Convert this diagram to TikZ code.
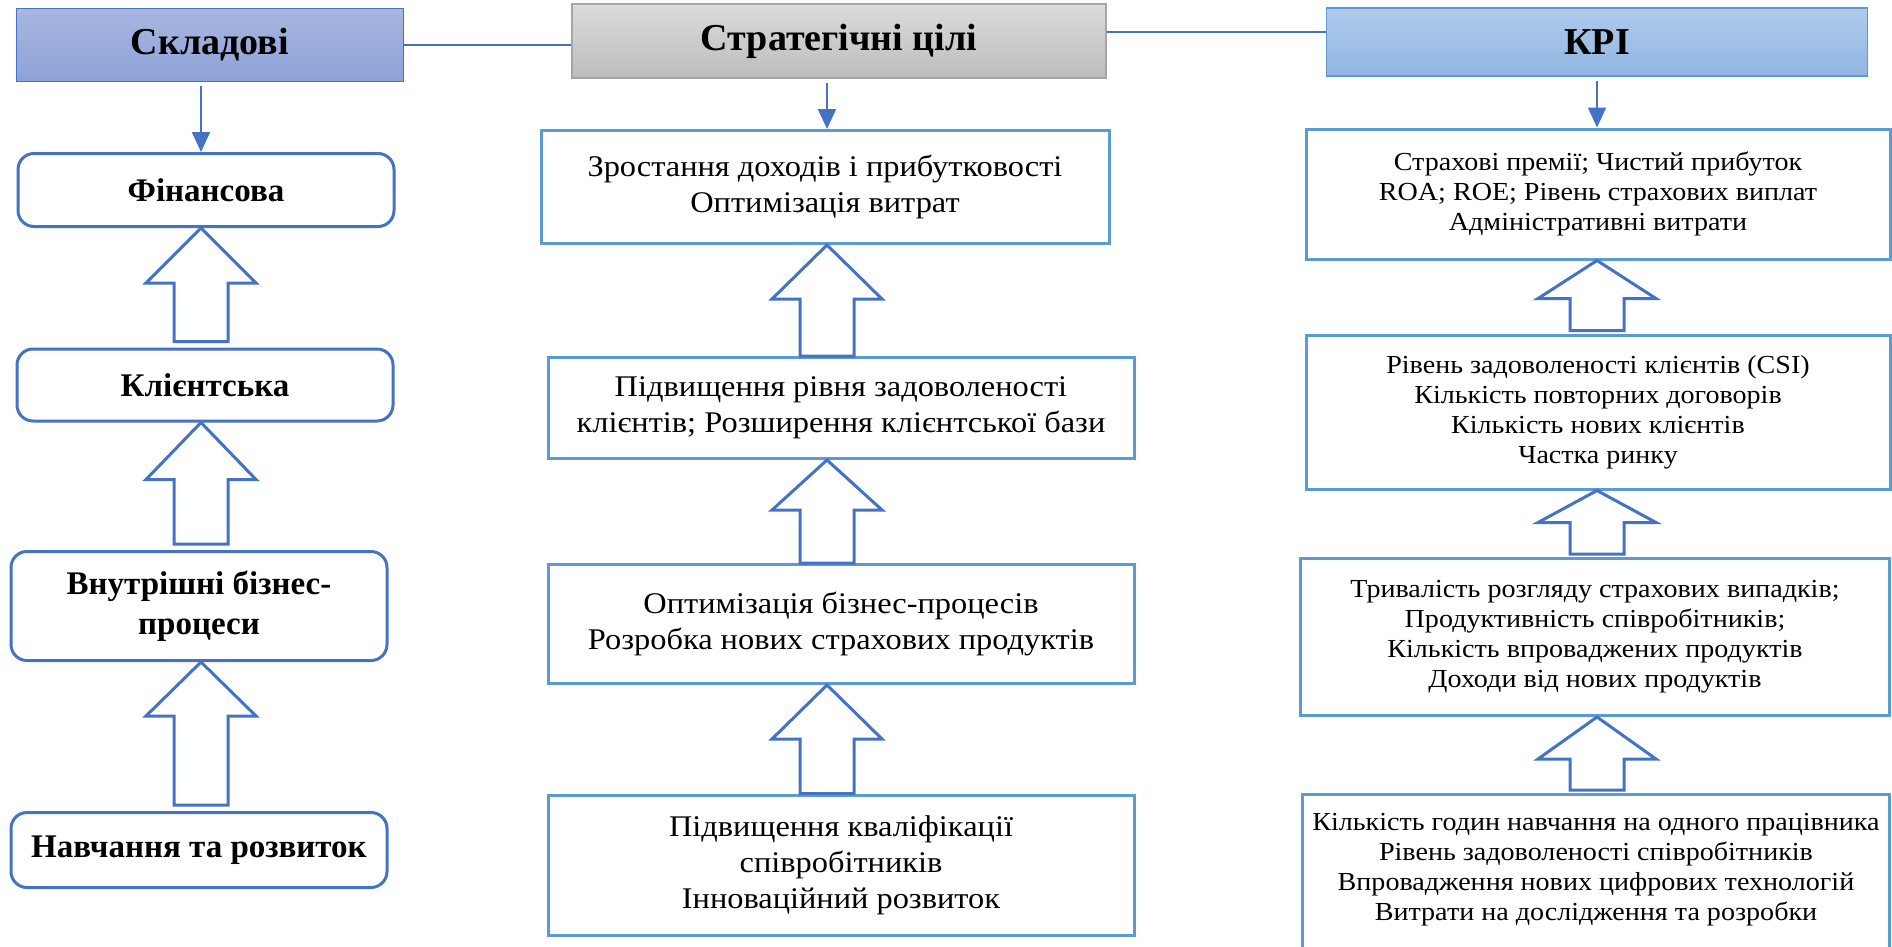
\documentclass[tikz,border=0pt]{standalone}
\usepackage{fontspec}
\setmainfont{Liberation Serif}
\newfontfamily\widefont{Liberation Serif}[FakeStretch=1.08]
\usetikzlibrary{calc,arrows.meta}
\definecolor{bsdark}{RGB}{68,114,196}
\definecolor{bslight}{RGB}{91,155,213}
\newcommand{\shaftw}{27}
\newcommand{\headw}{55}
\newcommand{\gapw}{6}
\newcommand{\blockup}[4]{\draw[hollow] ($(#1 |- #2.north)+(-\shaftw,-\gapw)$) -- ($(#1 |- #3.south)+(-\shaftw,#4)$) -- ($(#1 |- #3.south)+(-\headw,#4)$) -- (#1 |- #3.south) -- ($(#1 |- #3.south)+(\headw,#4)$) -- ($(#1 |- #3.south)+(\shaftw,#4)$) -- ($(#1 |- #2.north)+(\shaftw,-\gapw)$) -- cycle;}

\begin{document}
\begin{tikzpicture}[x=1pt, y=-1pt,
    every node/.style = {align=center, inner sep=0pt},
    head/.style = {draw, line width=1.5pt, font=\fontsize{38}{44}\selectfont\bfseries},
    part/.style = {draw=bsdark, line width=3pt, rounded corners=16pt, minimum width=376, font=\fontsize{33}{40}\selectfont\bfseries},
    goal/.style = {draw=bslight, line width=3pt, minimum width=586, font=\widefont\fontsize{30}{36}\selectfont},
    kpibox/.style = {draw=bslight, line width=3pt, minimum width=584, font=\widefont\fontsize{26}{30}\selectfont},
    hollow/.style = {draw=bsdark, line width=3pt, fill=white, line join=miter},
    downarr/.style = {draw=bsdark, line width=2pt, -{Triangle[width=18pt,length=20pt]}},
    thinline/.style = {draw=bsdark, line width=1.5pt}]
\path[use as bounding box, fill=white] (0,0) rectangle (1892,946);
\coordinate (axl) at (201,0);
\coordinate (axm) at (827,0);
\coordinate (axr) at (1597,0);

\node[head, draw=bsdark, top color={rgb,255:red,169;green,183;blue,224}, bottom color={rgb,255:red,140;green,162;blue,215}, minimum width=387, minimum height=73] (skl) at (210,45) {Складові};
\node[head, draw={rgb,255:red,166;green,166;blue,166}, top color={rgb,255:red,219;green,219;blue,219}, bottom color={rgb,255:red,189;green,189;blue,189}, minimum width=534, minimum height=74] (str) at (839,41) {Стратегічні цілі};
\node[head, draw=bslight, top color={rgb,255:red,175;green,202;blue,236}, bottom color={rgb,255:red,145;green,182;blue,225}, minimum width=541, minimum height=68] (kpi) at (1597,42) {КРІ};

\node[part, minimum height=73] (fin) at (206,190) {Фінансова};
\node[part, minimum height=72] (kli) at (205,385) {Клієнтська};
\node[part, minimum height=109] (vnu) at (199,606) {Внутрішні бізнес-\\процеси};
\node[part, minimum height=75] (nav) at (199,850) {Навчання та розвиток};

\node[goal, minimum width=568, minimum height=113] (g1) at (825,187) {Зростання доходів і прибутковості\\Оптимізація витрат};
\node[goal, minimum height=101] (g2) at (841,408) {Підвищення рівня задоволеності\\клієнтів; Розширення клієнтської бази};
\node[goal, minimum height=119] (g3) at (841,624) {Оптимізація бізнес-процесів\\Розробка нових страхових продуктів};
\node[goal, minimum height=140] (g4) at (841,865) {Підвищення кваліфікації\\співробітників\\Інноваційний розвиток};

\node[kpibox, minimum height=130] (k1) at (1598,194) {Страхові премії; Чистий прибуток\\ROA; ROE; Рівень страхових виплат\\Адміністративні витрати};
\node[kpibox, minimum height=154] (k2) at (1598,412) {Рівень задоволеності клієнтів (CSI)\\Кількість повторних договорів\\Кількість нових клієнтів\\Частка ринку};
\node[kpibox, minimum width=589, minimum height=157] (k3) at (1595,637) {Тривалість розгляду страхових випадків;\\Продуктивність співробітників;\\Кількість впроваджених продуктів\\Доходи від нових продуктів};
\node[kpibox, minimum width=587, minimum height=161] (k4) at (1596,875) {Кількість годин навчання на одного працівника\\Рівень задоволеності співробітників\\Впровадження нових цифрових технологій\\Витрати на дослідження та розробки\\[-14pt]};

\draw[thinline] (skl.east) -- (skl.east -| str.west);
\draw[thinline] ([yshift=9pt]str.east) -- ([yshift=9pt]str.east -| kpi.west);
\draw[downarr] ([yshift=-4pt]axl |- skl.south) -- (axl |- fin.north);
\draw[downarr] ([yshift=-4pt]axm |- str.south) -- (axm |- g1.north);
\draw[downarr] ([yshift=-4pt]axr |- kpi.south) -- (axr |- k1.north);

\blockup{axl}{kli}{fin}{55}
\blockup{axl}{vnu}{kli}{57}
\blockup{axl}{nav}{vnu}{54}
\renewcommand{\gapw}{0}
\blockup{axm}{g2}{g1}{54}
\blockup{axm}{g3}{g2}{50}
\blockup{axm}{g4}{g3}{54}
\renewcommand{\headw}{59}
\renewcommand{\gapw}{3}
\blockup{axr}{k2}{k1}{38}
\blockup{axr}{k3}{k2}{32}
\blockup{axr}{k4}{k3}{42}
\end{tikzpicture}
\end{document}
